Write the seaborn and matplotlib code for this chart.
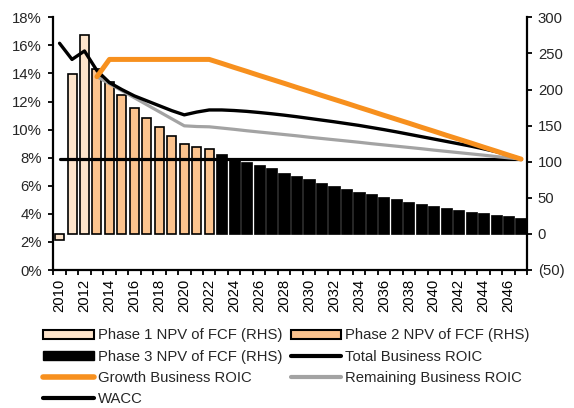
import numpy as np
import pandas as pd
import matplotlib
matplotlib.use("Agg")
import matplotlib.pyplot as plt
import seaborn as sns
from matplotlib.patches import Patch
from matplotlib.lines import Line2D
from matplotlib.ticker import FuncFormatter

# ---- data -------------------------------------------------------------
years = list(range(2010, 2048))

phase1_years = [2010, 2011, 2012]
phase1_npv = [-8, 221, 275]

phase2_years = list(range(2013, 2023))
phase2_npv = [228, 211, 193, 175, 161, 148, 136, 125, 121, 117]

phase3_years = list(range(2023, 2048))
phase3_npv = [111, 105, 100, 96, 91, 85, 80, 76, 71, 66.5,
              62, 58.6, 55.4, 51.7, 48, 44.7, 41.5, 38.8, 36.5, 33.5,
              31, 28.7, 26.5, 24.5, 22.7]

total_roic = [16.15, 15.0, 15.6, 14.2, 13.35, 12.85, 12.4, 12.05, 11.7, 11.35,
              11.05, 11.25, 11.4, 11.4, 11.36, 11.3, 11.22, 11.13, 11.03, 10.92,
              10.8, 10.68, 10.56, 10.43, 10.3, 10.15, 10.0, 9.84, 9.67, 9.5,
              9.33, 9.16, 8.99, 8.82, 8.63, 8.43, 8.18, 7.9]

roic_years = list(range(2013, 2048))
growth_roic = [13.77, 15.0, 15.0, 15.0, 15.0, 15.0, 15.0, 15.0, 15.0, 15.0,
               14.72, 14.43, 14.15, 13.86, 13.58, 13.30, 13.01, 12.73, 12.44, 12.16,
               11.88, 11.59, 11.31, 11.02, 10.74, 10.46, 10.17, 9.89, 9.60, 9.32,
               9.04, 8.75, 8.47, 8.18, 7.90]
remaining_roic = [13.77, 13.27, 12.77, 12.27, 11.77, 11.27, 10.77, 10.27, 10.22, 10.2,
                  10.11, 10.02, 9.92, 9.83, 9.74, 9.65, 9.56, 9.46, 9.37, 9.28,
                  9.19, 9.10, 9.00, 8.91, 8.82, 8.73, 8.64, 8.54, 8.45, 8.36,
                  8.27, 8.18, 8.08, 7.99, 7.90]
wacc = [7.9] * len(years)

# ---- style ------------------------------------------------------------
C_P1 = "#FDE4CB"
C_P2 = "#FBC38E"
C_P3 = "#000000"
C_GROWTH = "#F7901E"
C_REMAIN = "#A3A3A3"
FS = 10.7

sns.set_theme(style="white")
plt.rcParams["font.family"] = ["Liberation Sans", "DejaVu Sans"]

W, H = 574, 408
fig = plt.figure(figsize=(W / 100, H / 100), dpi=100)
left, right, top, bottom = 53.3, 527.3, 17.3, 270
ax = fig.add_axes([left / W, 1 - bottom / H, (right - left) / W, (bottom - top) / H])
ax2 = ax.twinx()  # lines (left-hand % scale) drawn above the bars

# bars on the primary axes (right-hand scale)
sns.barplot(x=phase1_years, y=phase1_npv, order=years, color=C_P1, saturation=1,
            edgecolor="black", linewidth=1.2, width=0.72, errorbar=None, ax=ax)
sns.barplot(x=phase2_years, y=phase2_npv, order=years, color=C_P2, saturation=1,
            edgecolor="black", linewidth=1.2, width=0.72, errorbar=None, ax=ax)
sns.barplot(x=phase3_years, y=phase3_npv, order=years, color=C_P3, saturation=1,
            edgecolor="black", linewidth=0.5, width=0.9, errorbar=None, ax=ax)

ax.set_xlim(-0.5, len(years) - 0.5)
ax.set_ylim(-50, 300)
ax.set_yticks(range(-50, 301, 50))
ax.yaxis.set_major_formatter(FuncFormatter(lambda v, p: f"({abs(int(v))})" if v < 0 else f"{int(v)}"))
ax.set_xlabel("")
ax.set_ylabel("")

# category boundaries carry the tick marks, labels sit at the centres
pos = {y: i for i, y in enumerate(years)}
label_years = [y for y in years if y % 2 == 0]
ax.set_xticks([pos[y] for y in label_years])
ax.set_xticklabels([str(y) for y in label_years])
ax.set_xticks(np.arange(-0.5, len(years), 1.0), minor=True)
ax.tick_params(axis="x", which="major", length=0, pad=6.5, labelrotation=90, labelsize=FS, colors="black")
ax.tick_params(axis="x", which="minor", length=3.6, width=1.3, color="black", direction="out", bottom=True)

x_all = [pos[y] for y in years]
x_roic = [pos[y] for y in roic_years]
sns.lineplot(x=x_all, y=wacc, color="black", linewidth=2.3, ax=ax2)
sns.lineplot(x=x_roic, y=remaining_roic, color=C_REMAIN, linewidth=2.3, ax=ax2)
sns.lineplot(x=x_all, y=total_roic, color="black", linewidth=2.4, ax=ax2)
sns.lineplot(x=x_roic, y=growth_roic, color=C_GROWTH, linewidth=3.6, ax=ax2,
             solid_capstyle="round")
ax2.set_ylim(0, 18)
ax2.set_yticks(range(0, 19, 2))
ax2.yaxis.set_major_formatter(FuncFormatter(lambda v, p: f"{int(v)}%"))
ax2.set_xlabel("")
ax2.set_ylabel("")
ax2.set_xlim(-0.5, len(years) - 0.5)

# bar scale on the right, percentage scale on the left
ax.yaxis.set_ticks_position("right")
ax.yaxis.set_label_position("right")
ax.tick_params(axis="y", which="major", length=3.6, width=1.3, color="black", direction="out",
               right=True, left=False, labelright=True, labelleft=False, labelsize=FS, pad=4)
ax2.yaxis.set_ticks_position("left")
ax2.yaxis.set_label_position("left")
ax2.tick_params(axis="y", which="major", length=3.6, width=1.3, color="black", direction="out",
                left=True, right=False, labelleft=True, labelright=False, labelsize=FS, pad=4.5)

for a in (ax, ax2):
    a.spines["top"].set_visible(False)
for s in ("left", "right", "bottom"):
    ax.spines[s].set_color("black")
    ax.spines[s].set_linewidth(1.6)
for s in ("left", "right", "bottom"):
    ax2.spines[s].set_visible(False)
ax.set_facecolor("white")
ax2.patch.set_visible(False)

# legend, two columns filled row by row
h_p1 = Patch(facecolor=C_P1, edgecolor="black", linewidth=1.5)
h_p2 = Patch(facecolor=C_P2, edgecolor="black", linewidth=1.5)
h_p3 = Patch(facecolor=C_P3, edgecolor="black", linewidth=1.0)
h_total = Line2D([], [], color="black", linewidth=3.0)
h_growth = Line2D([], [], color=C_GROWTH, linewidth=4.0, solid_capstyle="round")
h_remain = Line2D([], [], color=C_REMAIN, linewidth=3.0)
h_wacc = Line2D([], [], color="black", linewidth=3.0)

handles = [h_p1, h_p3, h_growth, h_wacc, h_p2, h_total, h_remain]
labels = ["Phase 1 NPV of FCF (RHS)", "Phase 3 NPV of FCF (RHS)", "Growth Business ROIC", "WACC",
          "Phase 2 NPV of FCF (RHS)", "Total Business ROIC", "Remaining Business ROIC"]
fig.legend(handles, labels, ncol=2, loc="upper left", bbox_to_anchor=(43 / W, 1 - 328.5 / H),
           frameon=False, fontsize=FS, handlelength=3.4, handleheight=0.6, handletextpad=0.27,
           columnspacing=0.6, labelspacing=0.48, borderpad=0, borderaxespad=0)

fig.savefig("out.png", dpi=100)
